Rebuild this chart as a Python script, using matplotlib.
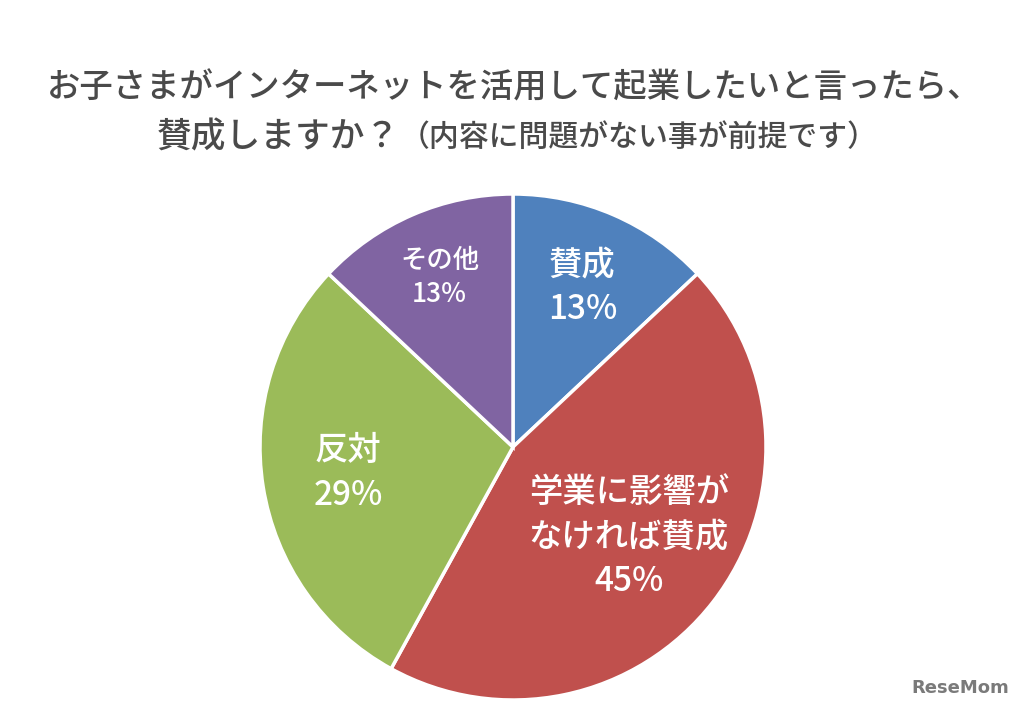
import numpy as np
import matplotlib
matplotlib.use('Agg')
import matplotlib.pyplot as plt

plt.rcParams['font.family'] = ['Noto Sans CJK JP', 'DejaVu Sans']

labels = ['賛成', '学業に影響が\nなければ賛成', '反対', 'その他']
values = [13, 45, 29, 13]
colors = ['#4F81BD', '#C0504D', '#9BBB59', '#8064A2']
label_dist = [0.69, 0.58, 0.66, 0.73]
label_size = [24, 24, 24, 19]

fig = plt.figure(figsize=(10.29, 7.09), dpi=100)
cx, cy, r = 513 / 1029, (709 - 447) / 709, 253
pad = 1.03
ax = fig.add_axes([cx - r * pad / 1029, cy - r * pad / 709, 2 * r * pad / 1029, 2 * r * pad / 709])

wedges, _ = ax.pie(values, colors=colors, startangle=90, counterclock=False,
                   radius=1, wedgeprops=dict(edgecolor='white', linewidth=2.5))
ax.set_xlim(-pad, pad)
ax.set_ylim(-pad, pad)
ax.set_aspect('equal')
ax.axis('off')

for w, lab, v, d, fs in zip(wedges, labels, values, label_dist, label_size):
    ang = np.deg2rad((w.theta1 + w.theta2) / 2)
    ax.text(d * np.cos(ang), d * np.sin(ang), f'{lab}\n{v}%', ha='center', va='center',
            color='white', fontsize=fs, fontweight='medium', linespacing=1.35)

title_color = '#4a4a4a'
fig.text(0.5, 1 - 88 / 709, 'お子さまがインターネットを活用して起業したいと言ったら、',
         ha='center', va='center', fontsize=24, color=title_color, fontweight='medium')
fig.text(400 / 1029, 1 - 137 / 709, '賛成しますか？', ha='right', va='center',
         fontsize=25, color=title_color, fontweight='medium')
fig.text(400 / 1029, 1 - 137 / 709, '（内容に問題がない事が前提です）', ha='left', va='center',
         fontsize=21.5, color=title_color, fontweight='medium')

fig.text(960 / 1029, 1 - 688 / 709, 'ReseMom', ha='center', va='center', fontsize=13,
         fontweight='bold', color='#7a7a7a', family=['DejaVu Sans'])

fig.savefig('out.png', dpi=100)
